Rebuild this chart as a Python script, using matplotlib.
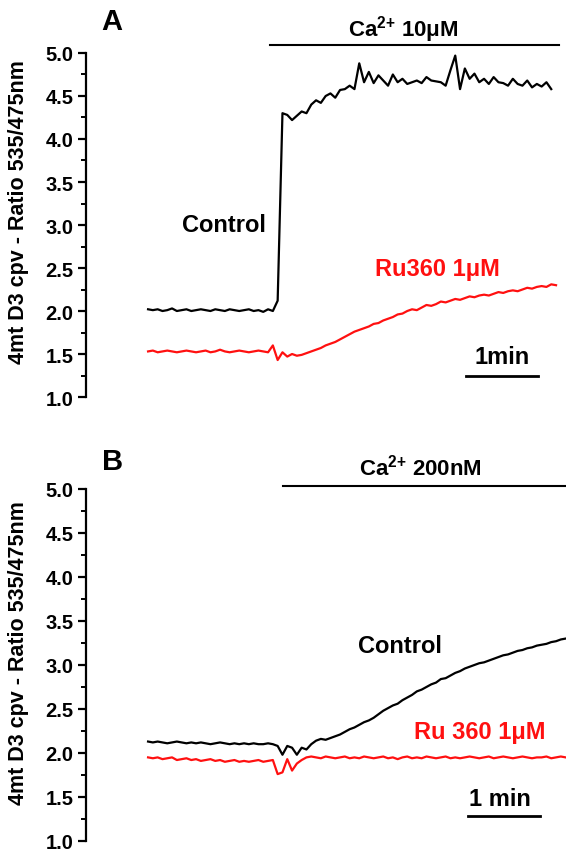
import matplotlib

matplotlib.use("Agg")
import matplotlib.pyplot as plt
import numpy as np

plt.rcParams["font.family"] = ["Liberation Sans", "DejaVu Sans"]
plt.rcParams["font.weight"] = "bold"
plt.rcParams["mathtext.default"] = "regular"

DT = 4.0  # s between samples
RED = "#FF1010"

# Panel A: Ca2+ 10 uM
a_control = [
    2.02, 2.01, 2.02, 2.00, 2.01, 2.03, 2.00, 2.01, 2.02, 2.00, 2.01, 2.02, 2.01, 2.00,
    2.02, 2.01, 2.00, 2.02, 2.01, 2.00, 2.01, 2.02, 2.00, 2.01, 1.99, 2.02, 2.00,
    2.12, 4.30, 4.28, 4.22, 4.27, 4.32, 4.30, 4.40, 4.45, 4.42, 4.50, 4.53, 4.48, 4.57,
    4.58, 4.62, 4.58, 4.88, 4.66, 4.78, 4.65, 4.74, 4.68, 4.62, 4.75, 4.66, 4.70, 4.64,
    4.66, 4.68, 4.65, 4.72, 4.68, 4.67, 4.66, 4.62, 4.80, 4.97, 4.58, 4.82, 4.70, 4.76,
    4.66, 4.70, 4.64, 4.72, 4.66, 4.65, 4.62, 4.70, 4.64, 4.62, 4.68, 4.60, 4.64, 4.61,
    4.66, 4.58,
]
a_ru360 = [
    1.53, 1.54, 1.52, 1.53, 1.54, 1.53, 1.52, 1.53, 1.54, 1.53, 1.52, 1.53, 1.54, 1.52,
    1.53, 1.55, 1.53, 1.52, 1.53, 1.54, 1.53, 1.52, 1.53, 1.54, 1.53, 1.52,
    1.60, 1.43, 1.52, 1.47, 1.50, 1.48, 1.49, 1.51, 1.53, 1.55, 1.57, 1.60, 1.62, 1.64,
    1.67, 1.70, 1.73, 1.76, 1.78, 1.80, 1.82, 1.85, 1.86, 1.89, 1.91, 1.93, 1.96, 1.97,
    2.00, 2.02, 2.01, 2.04, 2.07, 2.06, 2.08, 2.11, 2.10, 2.12, 2.14, 2.13, 2.15, 2.17,
    2.16, 2.18, 2.19, 2.18, 2.20, 2.22, 2.21, 2.23, 2.24, 2.23, 2.25, 2.27, 2.26, 2.28,
    2.29, 2.28, 2.31, 2.30,
]

# Panel B: Ca2+ 200 nM
b_control = [
    2.13, 2.12, 2.13, 2.12, 2.11, 2.12, 2.13, 2.12, 2.11, 2.12, 2.11, 2.12, 2.11, 2.10,
    2.11, 2.12, 2.11, 2.10, 2.11, 2.10, 2.11, 2.10, 2.11, 2.10, 2.10, 2.11, 2.10,
    2.08, 1.98, 2.08, 2.06, 1.98, 2.06, 2.04, 2.10, 2.14, 2.16, 2.15, 2.17, 2.19, 2.21,
    2.24, 2.27, 2.29, 2.32, 2.35, 2.37, 2.40, 2.44, 2.48, 2.51, 2.54, 2.56, 2.60, 2.63,
    2.66, 2.70, 2.72, 2.75, 2.78, 2.80, 2.84, 2.85, 2.88, 2.91, 2.93, 2.96, 2.98, 3.00,
    3.02, 3.03, 3.05, 3.07, 3.09, 3.11, 3.12, 3.14, 3.16, 3.17, 3.19, 3.20, 3.22, 3.23,
    3.24, 3.26, 3.27, 3.29, 3.30,
]
b_ru360 = [
    1.95, 1.94, 1.95, 1.93, 1.94, 1.95, 1.92, 1.93, 1.94, 1.92, 1.93, 1.91, 1.92, 1.93,
    1.91, 1.92, 1.90, 1.91, 1.92, 1.90, 1.91, 1.90, 1.91, 1.92, 1.90, 1.91, 1.92,
    1.76, 1.78, 1.93, 1.80, 1.88, 1.92, 1.95,
    1.96, 1.95, 1.94, 1.96, 1.95, 1.94, 1.95, 1.96, 1.94, 1.95, 1.94, 1.96, 1.95, 1.94,
    1.95, 1.96, 1.94, 1.95, 1.93, 1.95, 1.96, 1.94, 1.95, 1.94, 1.96, 1.95, 1.94, 1.95,
    1.96, 1.94, 1.95, 1.94, 1.95, 1.96, 1.95, 1.94, 1.95, 1.96, 1.94, 1.95, 1.96, 1.95,
    1.94, 1.95, 1.96, 1.95, 1.94, 1.95, 1.95, 1.96, 1.94, 1.95, 1.96, 1.95,
]

Y_TICKS = [1.0, 1.5, 2.0, 2.5, 3.0, 3.5, 4.0, 4.5, 5.0]
YLABEL = "4mt D3 cpv - Ratio 535/475nm"
W, H = 566, 853


def style_axis(ax, label_y_px):
    ax.set_xlim(-51.7, 348.3)
    ax.set_ylim(1.0, 5.0)
    for s in ("top", "right", "bottom"):
        ax.spines[s].set_visible(False)
    ax.spines["left"].set_linewidth(1.6)
    ax.set_xticks([])
    ax.set_yticks(Y_TICKS)
    ax.set_yticklabels([f"{v:.1f}" for v in Y_TICKS])
    ax.set_yticks(np.arange(1.0, 5.01, 0.25), minor=True)
    ax.tick_params(axis="y", which="major", length=6, width=1.6, labelsize=14.5, pad=3)
    ax.tick_params(axis="y", which="minor", length=3.5, width=1.4)
    ax.patch.set_visible(False)
    fig.text(19 / W, 1 - label_y_px / H, YLABEL, rotation=90, fontsize=15.5,
             ha="center", va="center")


def trace(ax, vals, color):
    t = DT * np.arange(len(vals))
    ax.plot(t, vals, color=color, lw=1.6, solid_joinstyle="round")


fig = plt.figure(figsize=(5.66, 8.53), dpi=100)
ax_a = fig.add_axes([0.152, 0.5334, 0.848, 0.4033])
ax_b = fig.add_axes([0.152, 0.0129, 0.848, 0.4127])

# --- A ---
style_axis(ax_a, 212)
trace(ax_a, a_control, "black")
trace(ax_a, a_ru360, RED)
ax_a.text(-30, 5.37, "A", fontsize=21, ha="center", va="center")
ax_a.plot([101.7, 342.5], [5.09, 5.09], color="black", lw=1.5, clip_on=False)
ax_a.text(212.5, 5.28, "Ca$^{2{+}}$ 10μM", fontsize=16, ha="center", va="center")
ax_a.text(63, 3.01, "Control", fontsize=17, ha="center", va="center")
ax_a.text(241, 2.49, "Ru360 1μM", fontsize=17, ha="center", va="center", color=RED)
ax_a.plot([265, 325], [1.244, 1.244], color="black", lw=2)
ax_a.text(295, 1.47, "1min", fontsize=17, ha="center", va="center")

# --- B ---
style_axis(ax_b, 653)
trace(ax_b, b_control, "black")
trace(ax_b, b_ru360, RED)
ax_b.text(-30, 5.32, "B", fontsize=21, ha="center", va="center")
ax_b.plot([112.5, 348.3], [5.03, 5.03], color="black", lw=1.5, clip_on=False)
ax_b.text(226.7, 5.26, "Ca$^{2{+}}$ 200nM", fontsize=16, ha="center", va="center")
ax_b.text(210, 3.22, "Control", fontsize=17, ha="center", va="center")
ax_b.text(276.7, 2.24, "Ru 360 1μM", fontsize=17, ha="center", va="center", color=RED)
ax_b.plot([266.7, 326.7], [1.28, 1.28], color="black", lw=2)
ax_b.text(293, 1.48, "1 min", fontsize=17, ha="center", va="center")

fig.savefig("out.png", dpi=100)
